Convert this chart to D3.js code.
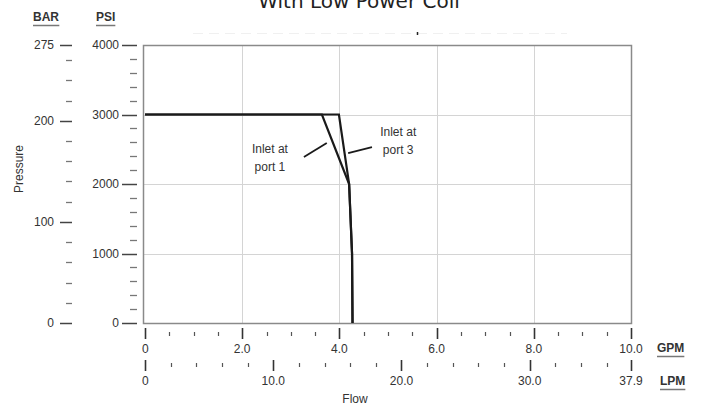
<!DOCTYPE html>
<html><head><meta charset="utf-8">
<script src="https://cdn.jsdelivr.net/npm/d3@7"></script>
<style>body{margin:0;background:#fff}svg{display:block}text{font-family:"Liberation Sans",Arial,sans-serif}</style>
</head><body>
<svg id="c" width="707" height="412"></svg>
<script>
const title = "With Low Power Coil";
const port1Flow = [0, 3.64, 4.20, 4.26, 4.27];
const port1Psi  = [3000, 3000, 2000, 1000, 0];
const port3Flow = [0, 3.99, 4.20, 4.26, 4.27];
const port3Psi  = [3000, 3000, 2000, 1000, 0];
const psiMajor = [0, 1000, 2000, 3000, 4000];
const barMajor = [0, 100, 200, 275];
const barMinor = [20,40,60,80,120,140,160,180,220,240,260];
const gpmMajor = [0, 2, 4, 6, 8, 10];
const gpmLabels = ["0","2.0","4.0","6.0","8.0","10.0"];
const lpmMajor = [0, 10, 20, 30, 37.9];
const lpmLabels = ["0","10.0","20.0","30.0","37.9"];
const annotations = [
  {lines:["Inlet at","port 1"], tx:2.57, ty:[2446,2187], from:[3.27,2388], to:[3.74,2590]},
  {lines:["Inlet at","port 3"], tx:5.21, ty:[2690,2432], from:[4.18,2446], to:[4.67,2532]}
];

const svg = d3.select("#c");
const L=143, R=632, T=45, B=323;
const x = d3.scaleLinear().domain([0,10]).range([145,631]);
const xl = d3.scaleLinear().domain([0,37.9]).range([145,631]);
const y = d3.scaleLinear().domain([0,4000]).range([B,T]);
const yb = d3.scaleLinear().domain([0,275]).range([B,T]);
const px = v => Math.round(v)+0.5;

// title (cut off at top)
svg.append("text").attr("x",359).attr("y",8).attr("text-anchor","middle")
  .style("font-family","'DejaVu Sans',Verdana,sans-serif").style("font-size","20px").attr("fill","#222").text(title);
// faint dotted remnant line
svg.append("line").attr("x1",193).attr("x2",567).attr("y1",33.5).attr("y2",33.5)
  .attr("stroke","#f0f0f0").attr("stroke-width",1).attr("stroke-dasharray","10,6");
svg.append("line").attr("x1",417.5).attr("x2",417.5).attr("y1",32).attr("y2",35).attr("stroke","#222").attr("stroke-width",1.5);

// grid
const grid = svg.append("g").attr("stroke","#d4d4d4").attr("stroke-width",1);
[2,4,6,8].forEach(v=>grid.append("line").attr("x1",px(x(v))).attr("x2",px(x(v))).attr("y1",T).attr("y2",B));
[1000,2000,3000].forEach(v=>grid.append("line").attr("x1",L).attr("x2",R).attr("y1",px(y(v))).attr("y2",px(y(v))));
// frame
svg.append("rect").attr("x",L+0.5).attr("y",T+0.5).attr("width",R-L-1).attr("height",B-T).attr("fill","none").attr("stroke","#8a8a8a").attr("stroke-width",1.5);

// PSI axis
const psiMinor = d3.range(200,4000,200).filter(v=>v%1000!==0);
const gP = svg.append("g");
gP.selectAll("line.pm").data(psiMajor).join("line").attr("class","pm").attr("x1",122).attr("x2",137).attr("y1",d=>px(y(d))).attr("y2",d=>px(y(d))).attr("stroke","#444").attr("stroke-width",1.5);
gP.selectAll("line.pn").data(psiMinor).join("line").attr("class","pn").attr("x1",130).attr("x2",137).attr("y1",d=>px(y(d))).attr("y2",d=>px(y(d))).attr("stroke","#777").attr("stroke-width",1.3);
gP.selectAll("text").data(psiMajor).join("text").attr("x",119).attr("y",d=>y(d)+4).attr("text-anchor","end").style("font-size","12px").attr("fill","#333").text(d=>d);
// BAR axis
const gB = svg.append("g");
gB.selectAll("line.bm").data(barMajor).join("line").attr("class","bm").attr("x1",60).attr("x2",72).attr("y1",d=>px(yb(d))).attr("y2",d=>px(yb(d))).attr("stroke","#444").attr("stroke-width",1.5);
gB.selectAll("line.bn").data(barMinor).join("line").attr("class","bn").attr("x1",66).attr("x2",72).attr("y1",d=>px(yb(d))).attr("y2",d=>px(yb(d))).attr("stroke","#777").attr("stroke-width",1.3);
gB.selectAll("text").data(barMajor).join("text").attr("x",54).attr("y",d=>yb(d)+4).attr("text-anchor","end").style("font-size","12px").attr("fill","#333").text(d=>d);

// headers
function uLabel(tx,ty,txt,anchor){
  const t = svg.append("text").attr("x",tx).attr("y",ty).attr("text-anchor",anchor||"start").style("font-size","12px").style("font-weight","bold").attr("fill","#333").text(txt);
  const bb = t.node().getBBox();
  svg.append("line").attr("x1",bb.x).attr("x2",bb.x+bb.width).attr("y1",ty+4.5).attr("y2",ty+4.5).attr("stroke","#777").attr("stroke-width",1.5);
}
uLabel(33,21,"BAR"); uLabel(96,21,"PSI");
uLabel(657,352,"GPM"); uLabel(660,385,"LPM");

svg.append("text").attr("transform","translate(23,169) rotate(-90)").attr("text-anchor","middle").style("font-size","12px").attr("fill","#333").text("Pressure");

// GPM axis
const gpmMinor = d3.range(0.5,10,0.5).filter(v=>v%2!==0);
const gG = svg.append("g");
gG.selectAll("line.gm").data(gpmMajor).join("line").attr("class","gm").attr("x1",d=>px(x(d))).attr("x2",d=>px(x(d))).attr("y1",328).attr("y2",339).attr("stroke","#333").attr("stroke-width",1.6);
gG.selectAll("line.gn").data(gpmMinor).join("line").attr("class","gn").attr("x1",d=>px(x(d))).attr("x2",d=>px(x(d))).attr("y1",332).attr("y2",336).attr("stroke","#555").attr("stroke-width",1.2);
gG.selectAll("text").data(gpmMajor).join("text").attr("x",d=>x(d)).attr("y",353).attr("text-anchor",(d,i)=>i===0?"start":"middle").attr("dx",(d,i)=>i===0?-3:0).style("font-size","12px").attr("fill","#333").text((d,i)=>gpmLabels[i]);
// LPM axis
const lpmMinor = d3.range(2,37.9,2).filter(v=>v%10!==0);
const gL = svg.append("g");
gL.selectAll("line.lm").data(lpmMajor).join("line").attr("class","lm").attr("x1",d=>px(xl(d))).attr("x2",d=>px(xl(d))).attr("y1",360).attr("y2",371).attr("stroke","#333").attr("stroke-width",1.6);
gL.selectAll("line.ln").data(lpmMinor).join("line").attr("class","ln").attr("x1",d=>px(xl(d))).attr("x2",d=>px(xl(d))).attr("y1",363).attr("y2",367).attr("stroke","#555").attr("stroke-width",1.2);
gL.selectAll("text").data(lpmMajor).join("text").attr("x",d=>xl(d)).attr("y",385).attr("text-anchor",(d,i)=>i===0?"start":"middle").attr("dx",(d,i)=>i===0?-3:0).style("font-size","12px").attr("fill","#333").text((d,i)=>lpmLabels[i]);
svg.append("text").attr("x",355).attr("y",403).attr("text-anchor","middle").style("font-size","12px").attr("fill","#333").text("Flow");

// curves
const line = d3.line().x(d=>x(d[0])).y(d=>y(d[1]));
[[port1Flow,port1Psi],[port3Flow,port3Psi]].forEach(([f,p])=>{
  svg.append("path").attr("d",line(f.map((v,i)=>[v,p[i]]))).attr("fill","none").attr("stroke","#1a1a1a").attr("stroke-width",2.2).attr("stroke-linejoin","miter");
});

// annotations
annotations.forEach(a=>{
  a.lines.forEach((t,i)=>svg.append("text").attr("x",x(a.tx)).attr("y",y(a.ty[i])).attr("text-anchor","middle").style("font-size","12px").attr("fill","#333").text(t));
  svg.append("line").attr("x1",x(a.from[0])).attr("y1",y(a.from[1])).attr("x2",x(a.to[0])).attr("y2",y(a.to[1])).attr("stroke","#1a1a1a").attr("stroke-width",1.8);
});
</script>
</body></html>
